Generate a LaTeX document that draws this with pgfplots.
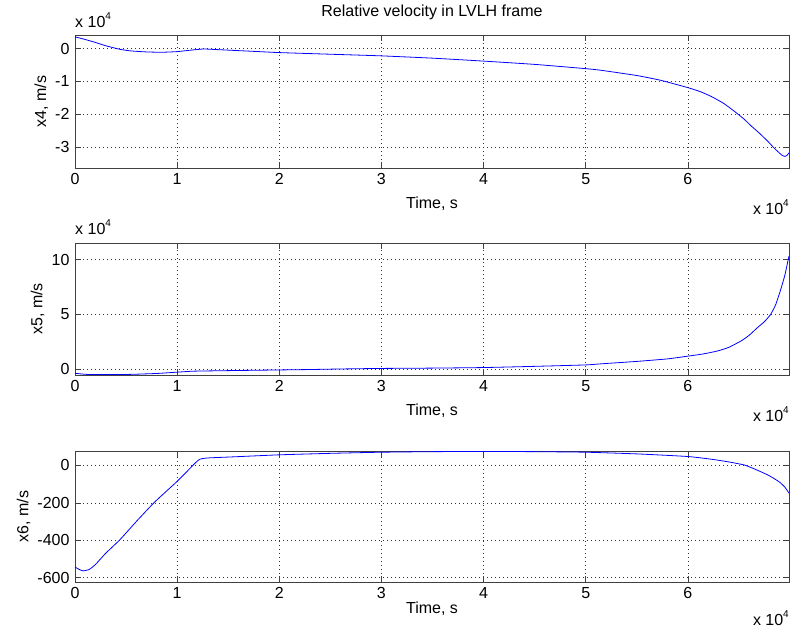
\documentclass[border=0pt]{standalone}
\usepackage{fontspec}
\setmainfont{Liberation Sans}
\usepackage{pgfplots}
\pgfplotsset{compat=1.18}

\pgfplotsset{
  mlab/.style={
    scale only axis,
    width=714bp,
    xmin=0, xmax=6.99,
    xtick={0,1,2,3,4,5,6},
    xticklabels={0,1,2,3,4,5,6},
    tick align=inside,
    major tick length=6bp,
    xtick pos=both, ytick pos=both,
    xmajorgrids, ymajorgrids,
    grid style={dash pattern=on 1bp off 3bp, black!80, line width=0.6bp},
    axis line style={black!75, line width=0.7bp},
    tick style={black!75, line width=0.7bp},
    /pgf/number format/assume math mode=true,
    tick label style={font=\fontsize{16bp}{19bp}\selectfont},
    label style={font=\fontsize{16bp}{19bp}\selectfont},
    xlabel={Time, s},
    every axis y label/.style={rotate=90, anchor=center},
    every axis x label/.style={anchor=center},
    clip=false,
  },
  curve/.style={blue, line width=0.8bp, smooth, tension=0.3},
}
\newcommand{\mult}{x 10\raisebox{0.55em}{\fontsize{10bp}{11bp}\selectfont 4}}

\begin{document}
\fontsize{16bp}{19bp}\selectfont
\begin{tikzpicture}
\path (0bp,0bp) rectangle (794bp,-633bp);

% x4
\begin{axis}[mlab,
  at={(75bp,-32bp)}, anchor=north west,
  height=133bp,
  ymin=-3.64, ymax=0.42,
  ytick={-3,-2,-1,0},
  yticklabels={-3,-2,-1,0},
  ylabel={x4, m/s},
  ylabel style={at={(axis description cs:-0.047,0.5)}},
  xlabel style={at={(axis description cs:0.5,-0.271)}},
  title={Relative velocity in LVLH frame},
  title style={at={(axis description cs:0.5,1)}, anchor=base, yshift=12bp,
    font=\fontsize{16bp}{19bp}\selectfont},
]
\addplot[curve] coordinates {
(0,0.36) (0.1,0.28) (0.2,0.19) (0.3,0.09) (0.44,-0.02) (0.55,-0.07)
(0.7,-0.10) (0.85,-0.11) (1.0,-0.09) (1.15,-0.04) (1.26,-0.01) (1.4,-0.03)
(1.6,-0.06) (1.8,-0.09) (2.0,-0.12) (2.5,-0.17) (3.0,-0.22) (3.5,-0.29)
(4.0,-0.38) (4.5,-0.48) (5.0,-0.61) (5.15,-0.66) (5.5,-0.82) (5.74,-0.97)
(6.0,-1.19) (6.12,-1.31) (6.23,-1.46) (6.35,-1.67) (6.45,-1.9) (6.55,-2.15)
(6.62,-2.36) (6.7,-2.58) (6.78,-2.82) (6.84,-3.02) (6.88,-3.14) (6.92,-3.25)
(6.95,-3.29) (6.97,-3.26) (6.99,-3.18)
};
\node[anchor=base west, inner sep=0pt, yshift=7bp] at (rel axis cs:0,1) {\mult};
\node[anchor=base east, inner sep=0pt, yshift=-47bp] at (rel axis cs:1,0) {\mult};
\end{axis}

% x5
\begin{axis}[mlab,
  at={(75bp,-240bp)}, anchor=north west,
  height=132bp,
  ymin=-0.51, ymax=11.52,
  ytick={0,5,10},
  yticklabels={0,5,10},
  ylabel={x5, m/s},
  ylabel style={at={(axis description cs:-0.0525,0.5)}},
  xlabel style={at={(axis description cs:0.5,-0.273)}},
]
\addplot[curve] coordinates {
(0,-0.36) (0.08,-0.44) (0.15,-0.47) (0.5,-0.47) (0.8,-0.38) (1.0,-0.26)
(1.16,-0.17) (1.5,-0.12) (1.9,-0.07) (2.3,-0.02) (2.6,0.03) (3.0,0.08)
(3.5,0.11) (4.0,0.16) (4.5,0.27) (5.0,0.40) (5.15,0.5) (5.5,0.72)
(5.8,0.95) (6.0,1.2) (6.15,1.4) (6.29,1.67) (6.4,2.0) (6.52,2.58) (6.6,3.1)
(6.68,3.79) (6.75,4.35) (6.81,5.0) (6.86,5.9) (6.91,7.3) (6.95,8.6)
(6.98,9.9) (6.99,10.3)
};
\node[anchor=base west, inner sep=0pt, yshift=8bp] at (rel axis cs:0,1) {\mult};
\node[anchor=base east, inner sep=0pt, yshift=-47bp] at (rel axis cs:1,0) {\mult};
\end{axis}

% x6
\begin{axis}[mlab,
  at={(75bp,-448bp)}, anchor=north west,
  height=131bp,
  ymin=-623, ymax=78,
  ytick={-600,-400,-200,0},
  yticklabels={-600,-400,-200,0},
  ylabel={x6, m/s},
  ylabel style={at={(axis description cs:-0.0721,0.5)}},
  xlabel style={at={(axis description cs:0.5,-0.206)}},
]
\addplot[curve] coordinates {
(0,-543) (0.04,-556) (0.08,-564) (0.14,-556) (0.2,-530) (0.3,-470)
(0.44,-397) (0.6,-300) (0.77,-201) (0.9,-135) (1.0,-85) (1.1,-30)
(1.18,15) (1.22,33) (1.26,38) (1.32,41) (1.5,45) (2.0,57) (2.5,65)
(3.0,71) (3.5,74) (4.0,75) (4.5,74) (5.0,71) (5.5,62) (6.0,48) (6.25,32)
(6.4,19) (6.55,3) (6.65,-18) (6.78,-50) (6.85,-72) (6.9,-90) (6.95,-116)
(6.99,-148)
};
\node[anchor=base east, inner sep=0pt, yshift=-44bp] at (rel axis cs:1,0) {\mult};
\end{axis}
\end{tikzpicture}
\end{document}
